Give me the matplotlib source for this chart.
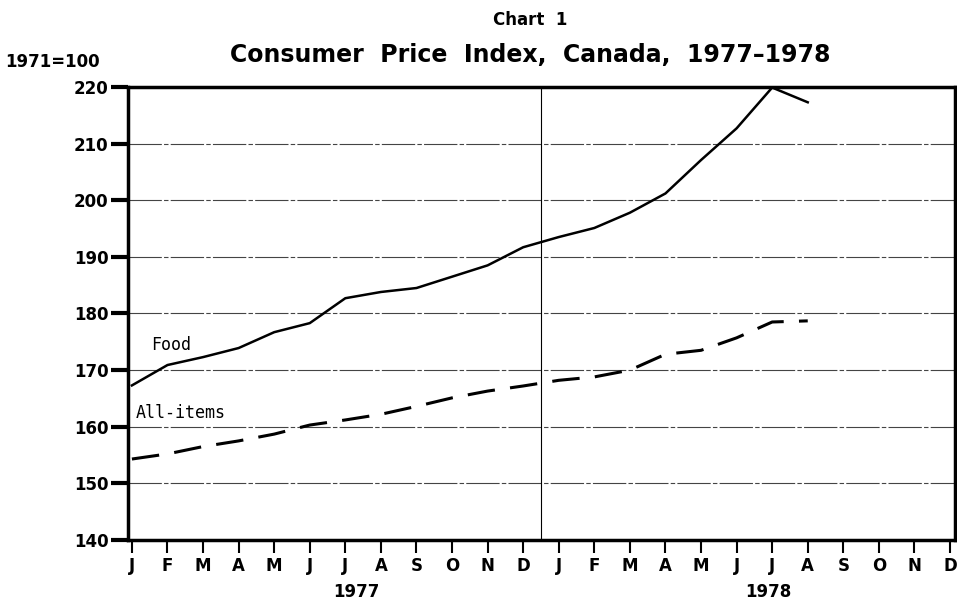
import matplotlib.pyplot as plt
import numpy as np

months = ['J', 'F', 'M', 'A', 'M', 'J', 'J', 'A', 'S', 'O', 'N', 'D'] * 2
years = ['1977', '1978']
y_ticks = [140, 150, 160, 170, 180, 190, 200, 210, 220]

# Jan 1977 .. Aug 1978, 1971=100
food = [167.3, 170.9, 172.3, 173.9, 176.7, 178.3, 182.7, 183.8, 184.5, 186.5,
        188.5, 191.7, 193.5, 195.1, 197.8, 201.2, 207.1, 212.7, 219.9, 217.3]
all_items = [154.3, 155.2, 156.5, 157.5, 158.7, 160.3, 161.2, 162.2, 163.6, 165.1,
             166.3, 167.2, 168.2, 168.8, 170.0, 172.8, 173.5, 175.7, 178.5, 178.7]

plt.rcParams['font.family'] = ['Liberation Sans Narrow', 'DejaVu Sans']

fig = plt.figure(figsize=(9.57, 6.04), dpi=100)
ax = fig.add_axes([128/957, 64/604, 827/957, 453/604])

x = np.arange(len(food))
ax.plot(x, food, color='black', lw=1.8)
ax.plot(np.arange(len(all_items)), all_items, color='black', lw=2.2, dashes=(9, 5))

# thin, slightly broken grid lines like the printed original
for v in y_ticks[1:-1]:
    ax.axhline(v, color='#444444', lw=0.8, dashes=(30, 2, 4, 2), zorder=0)
ax.axvline(11.5, color='black', lw=0.8)

ax.set_xlim(-0.11, 23.14)
ax.set_ylim(140, 220)
ax.set_xticks(range(24))
ax.set_xticklabels(months, fontsize=12, fontweight='bold')
ax.set_yticks(y_ticks)
ax.set_yticklabels([str(v) for v in y_ticks], fontsize=12, fontweight='bold')
ax.tick_params(axis='x', direction='out', length=9, width=1.5, pad=3)
ax.tick_params(axis='y', direction='out', length=12, width=3, pad=2)
for s in ax.spines.values():
    s.set_linewidth(2.5)

ax.text(0.55, 173.5, 'Food', family='DejaVu Sans Mono', fontsize=12)
ax.text(0.1, 161.5, 'All-items', family='DejaVu Sans Mono', fontsize=12)

for i, yr in enumerate(years):
    ax.text(6.3 + 11.6 * i, 130.8, yr, ha='center', va='center', fontsize=12, fontweight='bold')

fig.text(530/957, 1 - 20/604, 'Chart  1', ha='center', va='center', fontsize=12, fontweight='bold')
fig.text(530/957, 1 - 55/604, 'Consumer  Price  Index,  Canada,  1977\u20131978', ha='center', va='center',
         fontsize=17, fontweight='bold')
fig.text(5/957, 1 - 62/604, '1971=100', ha='left', va='center', fontsize=12, fontweight='bold')

fig.savefig('out.png', dpi=100)
